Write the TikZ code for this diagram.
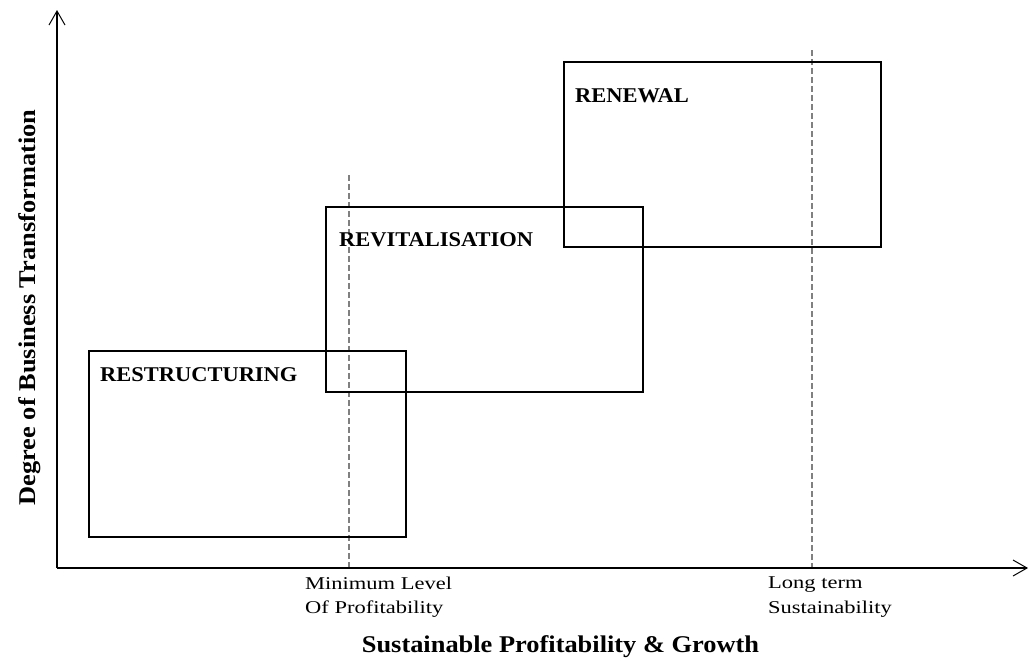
\documentclass[tikz,border=0pt]{standalone}
\usepackage{fontspec}
\usepackage{graphicx}
\setmainfont{Liberation Serif}
\usetikzlibrary{arrows.meta}
\newcommand{\wideby}[2]{\scalebox{#1}[1]{#2}}
\begin{document}
\begin{tikzpicture}[x=1pt,y=-1pt,
  axis/.style={line width=1.2pt,-{Straight Barb[length=14pt,width=16pt,line width=1pt]}},
  phase/.style={draw=black,line width=1.3pt,minimum width=317pt,inner sep=0pt,outer sep=0pt},
  guide/.style={draw=gray,line width=1.6pt,dash pattern=on 6pt off 3pt},
  phaselabel/.style={font=\bfseries\fontsize{21}{23}\selectfont,anchor=base west,inner sep=0pt},
  ticklabel/.style={font=\fontsize{18}{24}\selectfont,anchor=base west,inner sep=0pt},
  axislabel/.style={font=\bfseries\fontsize{24}{26}\selectfont,anchor=base,inner sep=0pt}]
\useasboundingbox (0,0) rectangle (1029,657);
% guide lines
\coordinate (g1top) at (349,175);
\coordinate (g1bot) at (349,568);
\coordinate (g2top) at (812,50);
\coordinate (g2bot) at (812,568);
\draw[guide] (g1top) -- (g1bot);
\draw[guide] (g2top) -- (g2bot);
% boxes
\node[phase,minimum height=186pt] (restr) at (247.5,444) {};
\node[phase,minimum height=185pt] (revit) at (484.5,299.5) {};
\node[phase,minimum height=185pt] (renew) at (722.5,154.5) {};
\node[phaselabel] (lrestr) at (100,381) {\wideby{1.07}{RESTRUCTURING}};
\node[phaselabel] (lrevit) at (339,246) {\wideby{1.07}{REVITALISATION}};
\node[phaselabel] (lrenew) at (575,102) {\wideby{1.07}{RENEWAL}};
% axes
\coordinate (O) at (57,568);
\coordinate (ytop) at (57,10);
\coordinate (xend) at (1028,568);
\draw[axis] (O) -- (ytop);
\draw[axis] (O) -- (xend);
% tick labels
\node[ticklabel] (tmina) at (305,589) {\wideby{1.25}{Minimum Level}};
\node[ticklabel] (tminb) at (305,613) {\wideby{1.25}{Of Profitability}};
\node[ticklabel] (tlonga) at (768,588) {\wideby{1.25}{Long term}};
\node[ticklabel] (tlongb) at (768,613) {\wideby{1.25}{Sustainability}};
% axis labels
\node[axislabel] (xlab) at (560.5,652) {\wideby{1.1}{Sustainable Profitability \& Growth}};
\node[axislabel,rotate=90] (ylab) at (35,307.5) {\wideby{1.1}{Degree of Business Transformation}};
\end{tikzpicture}
\end{document}
